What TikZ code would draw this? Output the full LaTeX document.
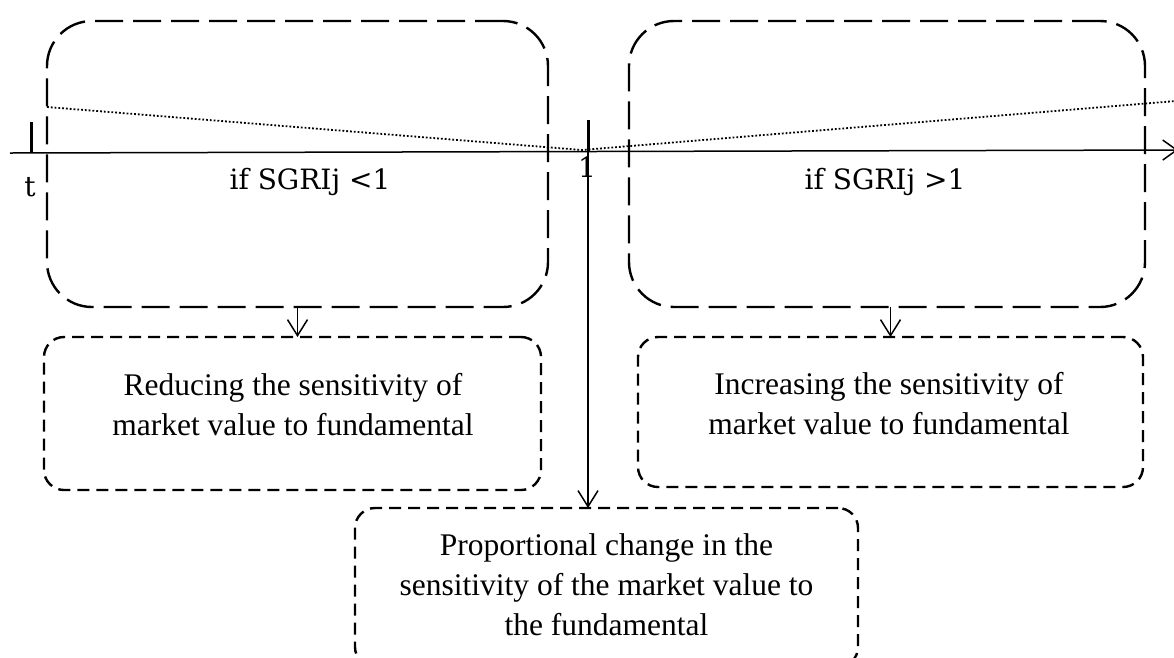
\documentclass[tikz,border=0pt]{standalone}
\usepackage{fontspec}
\setmainfont{Liberation Serif}
\newfontfamily\sgfont{DejaVu Serif}
\usetikzlibrary{arrows.meta}
\begin{document}
\begin{tikzpicture}[x=1pt,y=-1pt,
  bigbox/.style={draw, line width=2.4pt, dash pattern=on 28pt off 10pt, rounded corners=45pt, inner sep=0pt, outer sep=0pt},
  smallbox/.style={draw, line width=2.4pt, dash pattern=on 12pt off 7pt, rounded corners=20pt, inner sep=0pt, outer sep=0pt},
  txt/.style={align=center, font=\fontsize{31.5}{40}\selectfont},
  sgtxt/.style={font=\sgfont\fontsize{28}{34}\selectfont, inner sep=0pt},
  arr/.style={line width=1.5pt, -{Straight Barb[length=16pt,width=20pt,line width=1.5pt]}},
  tickmark/.style={line width=3pt},
  dotline/.style={line width=1.8pt, dash pattern=on 1.8pt off 2pt}
]
\useasboundingbox (0,0) rectangle (1174,657);
% big dashed boxes
\node[bigbox, minimum width=501pt, minimum height=286pt] (L) at (297.5,164) {};
\node[bigbox, minimum width=516pt, minimum height=286pt] (R) at (887,164) {};
% small boxes
\node[smallbox, minimum width=497pt, minimum height=153pt] (LS) at (292.5,413.5) {};
\node[smallbox, minimum width=505pt, minimum height=150pt] (RS) at (890.5,412) {};
\node[smallbox, minimum width=503pt, minimum height=159pt] (B) at (606.5,587.5) {};
\node[txt] (LSt) at (293,405) {Reducing the sensitivity of\\market value to fundamental};
\node[txt] (RSt) at (889,404) {Increasing the sensitivity of\\market value to fundamental};
\node[txt] (Bt) at (606.5,585) {Proportional change in the\\sensitivity of the market value to\\the fundamental};
% axis
\coordinate (ax0) at (10,153);
\coordinate (ax1) at (1178,150);
\draw[line width=1.5pt, -{Straight Barb[length=14pt,width=20pt,line width=1.5pt]}] (ax0) -- (ax1);
% ticks
\coordinate (t0) at (31,153);
\coordinate (one) at (588,152);
\draw[tickmark] (t0) -- ++(0,-31);
\draw[tickmark] (one) -- ++(0,-32);
% dotted line
\coordinate (d0) at (47,107);
\coordinate (d1) at (582,150);
\coordinate (d2) at (1176,101);
\draw[dotline] (d0) -- (d1) -- (d2);
% labels
\node[sgtxt] (tl) at (30,187) {t};
\node[sgtxt] (onel) at (587,167) {1};
\node[sgtxt] (lt) at (310,182) {if SGRIj <1};
\node[sgtxt] (rt) at (885,182) {if SGRIj >1};
% arrows
\draw[arr] (L.south) -- (L.south |- LS.north);
\draw[arr] (RS.north |- R.south) -- (RS.north);
\draw[arr] (one) -- (one |- B.north);
\end{tikzpicture}
\end{document}
